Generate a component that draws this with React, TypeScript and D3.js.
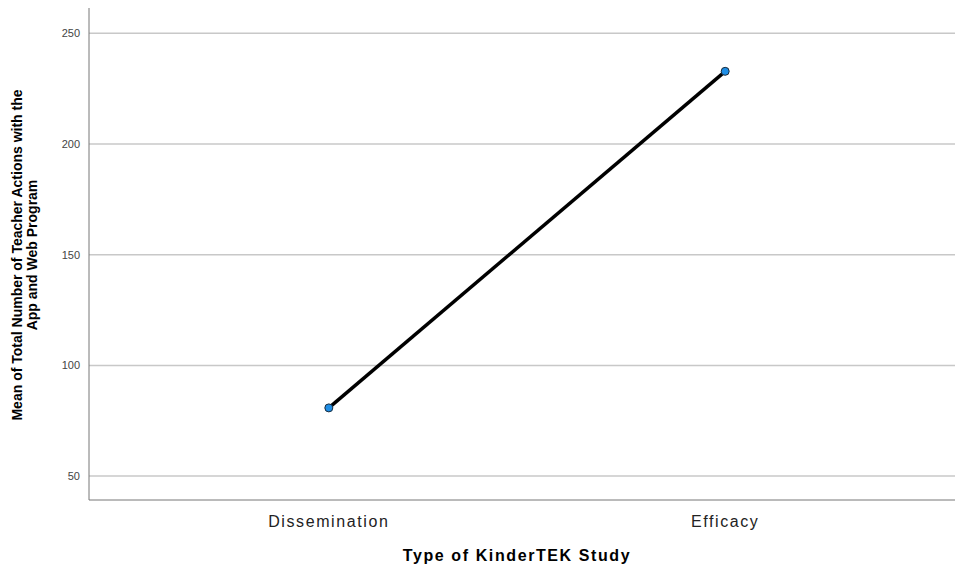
import * as d3 from 'd3';
import * as React from 'react';

const categories = ['Dissemination', 'Efficacy'];
const means = [80.8, 232.8];
const yTicks = [50, 100, 150, 200, 250];

const W = 955;
const H = 569;
const left = 89;
const top = 8;
const bottom = 500;
const right = 955;

export default function App() {
    const x = d3.scalePoint<string>()
        .domain(categories)
        .range([left + 2, right + 8])
        .padding(0.6);

    const y = d3.scaleLinear()
        .domain([39.2, 261.4])
        .range([bottom, top]);

    const pts = categories.map((c, i) => ({c, v: means[i]}));

    const line = d3.line<{c: string, v: number}>()
        .x((d) => x(d.c) as number)
        .y((d) => y(d.v));

    const font = 'Arial, "Liberation Sans", sans-serif';

    return (
        <svg width={W} height={H} style={{position: 'absolute', left: 0, top: 0}}>
            {yTicks.map((t) => (
                <g key={t}>
                    <line x1={left} x2={right} y1={y(t)} y2={y(t)} stroke='#c8c8c8' strokeWidth={1.5} />
                    <text x={80} y={y(t) + 4} textAnchor='end' fontFamily={font} fontSize={11} fill='#444'>{t}</text>
                </g>
            ))}
            <line x1={left} x2={left} y1={top} y2={bottom} stroke='#777' strokeWidth={1} />
            <line x1={left} x2={right} y1={bottom} y2={bottom} stroke='#777' strokeWidth={1} />
            {categories.map((c) => (
                <text key={c} x={x(c)} y={527} textAnchor='middle' fontFamily={font} fontSize={16} letterSpacing={1.6} fill='#222'>{c}</text>
            ))}
            <path d={line(pts) || ''} fill='none' stroke='#000' strokeWidth={3.5} />
            {pts.map((d) => (
                <circle key={d.c} cx={x(d.c)} cy={y(d.v)} r={4} fill='#1f8ee6' stroke='#1a2b3a' strokeWidth={1} />
            ))}
            <text x={517} y={561} textAnchor='middle' fontFamily={font} fontSize={16} fontWeight='bold' letterSpacing={1.6} fill='#000'>Type of KinderTEK Study</text>
            <text transform='translate(22,255) rotate(-90)' textAnchor='middle' fontFamily={font} fontSize={14} fontWeight='bold' fill='#000'>
                <tspan x={0} dy={0}>Mean of Total Number of Teacher Actions with the</tspan>
                <tspan x={0} dy={15}>App and Web Program</tspan>
            </text>
        </svg>
    );
}
